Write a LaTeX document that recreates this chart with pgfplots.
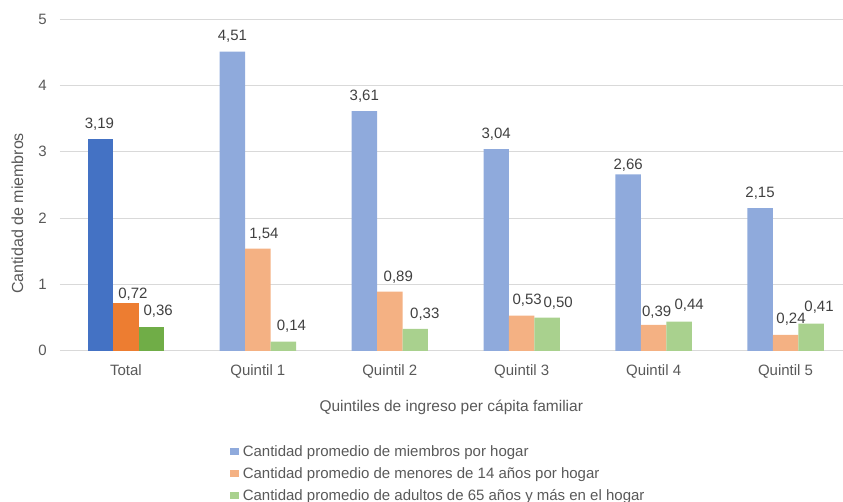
\documentclass[border=0pt]{standalone}
\usepackage{pgfplots}
\usepackage{pgfplotstable}
\usepackage{fontspec}
\setmainfont{Liberation Sans}
\pgfplotsset{compat=1.18}
\definecolor{cB}{HTML}{4472C4}
\definecolor{cO}{HTML}{ED7D31}
\definecolor{cG}{HTML}{70AD47}
\definecolor{cBl}{HTML}{8FAADC}
\definecolor{cOl}{HTML}{F4B183}
\definecolor{cGl}{HTML}{A9D18E}
\definecolor{gridc}{HTML}{D9D9D9}
\definecolor{txt}{HTML}{595959}
\definecolor{lbl}{HTML}{404040}

% dx, dy: label offsets in pt (dx includes the bar's own offset from the group centre)
\pgfplotstableread{
x y dx dy
0 3.19 -26.5 16
}\totB
\pgfplotstableread{
x y dx dy
0 0.72 7 9.5
}\totO
\pgfplotstableread{
x y dx dy
0 0.36 32.2 16
}\totG
\pgfplotstableread{
x y dx dy
1 4.51 -25.5 16.5
2 3.61 -25.5 15.5
3 3.04 -25.5 16
4 2.66 -25.5 10
5 2.15 -25.5 15.6
}\qB
\pgfplotstableread{
x y dx dy
1 1.54 6 15.5
2 0.89 8.5 15
3 0.53 5.5 16
4 0.39 3 13
5 0.24 5.5 16
}\qO
\pgfplotstableread{
x y dx dy
1 0.14 33.5 16
2 0.33 35 15
3 0.50 36.5 15
4 0.44 35.5 17
5 0.41 33.5 17
}\qG

\begin{document}
\begin{tikzpicture}
\begin{axis}[
  name=ax,
  at={(0,0)}, anchor=south west,
  scale only axis,
  width=783pt, height=332pt,
  xmin=-0.5, xmax=5.432,
  ymin=0, ymax=5,
  xtick={0,1,2,3,4,5},
  xticklabels={Total, Quintil 1, Quintil 2, Quintil 3, Quintil 4, Quintil 5},
  ytick={0,1,2,3,4,5},
  /pgf/number format/assume math mode=true,
  ymajorgrids,
  grid style={draw=gridc, line width=0.9pt},
  axis line style={draw=none},
  major tick length=0pt,
  tick style={draw=none},
  bar width=0.193,
  xticklabel style={anchor=base, yshift=-24.7pt, text=txt, font=\fontsize{15}{18}\selectfont},
  yticklabel style={anchor=east, inner sep=0pt, xshift=-13pt, text=txt, font=\fontsize{15}{18}\selectfont},
  xlabel={Quintiles de ingreso per cápita familiar},
  xlabel style={at={(axis description cs:0.5,0)}, anchor=base, yshift=-61pt, text=txt, font=\fontsize{15.5}{18}\selectfont},
  ylabel={Cantidad de miembros},
  ylabel style={at={(axis description cs:-0.0543,0.414)}, anchor=center, text=txt, font=\fontsize{16}{18}\selectfont},
  legend style={at={(axis description cs:0.217,-0.285)}, anchor=north west, draw=none, fill=none,
    inner sep=0pt, outer sep=0pt, row sep=9.8pt, column sep=4pt,
    nodes={inner sep=0pt, text height=11pt, text depth=1.3pt, text=txt, font=\fontsize{15}{18}\selectfont}},
  legend cell align=left,
  legend image code/.code={\fill[#1] (0pt,-3.5pt) rectangle (9pt,4pt);},
  nodes near coords={\pgfmathprintnumber[fixed, fixed zerofill, precision=2, use comma]{\pgfplotspointmeta}},
  every node near coord/.append style={text=lbl, font=\fontsize{15}{18}\selectfont, inner sep=0pt, text height=10.5pt, text depth=0pt},
  visualization depends on={\thisrow{dx} \as \dx},
  visualization depends on={\thisrow{dy} \as \dy},
  every node near coord/.append style={xshift=\dx pt, yshift={\dy pt-5.25pt}},
]
\addplot[ybar, bar shift=-0.193, fill=cBl, draw=none] table[x=x, y=y] {\qB};
\addlegendentry{Cantidad promedio de miembros por hogar}
\addplot[ybar, bar shift=0, fill=cOl, draw=none] table[x=x, y=y] {\qO};
\addlegendentry{Cantidad promedio de menores de 14 años por hogar}
\addplot[ybar, bar shift=0.193, fill=cGl, draw=none] table[x=x, y=y] {\qG};
\addlegendentry{Cantidad promedio de adultos de 65 años y más en el hogar}
\addplot[ybar, bar shift=-0.193, fill=cB, draw=none, forget plot] table[x=x, y=y] {\totB};
\addplot[ybar, bar shift=0, fill=cO, draw=none, forget plot] table[x=x, y=y] {\totO};
\addplot[ybar, bar shift=0.193, fill=cG, draw=none, forget plot] table[x=x, y=y] {\totG};
\end{axis}
\path ([shift={(-60pt,-150pt)}]ax.south west) rectangle ([shift={(0pt,19pt)}]ax.north east);
\end{tikzpicture}
\end{document}
